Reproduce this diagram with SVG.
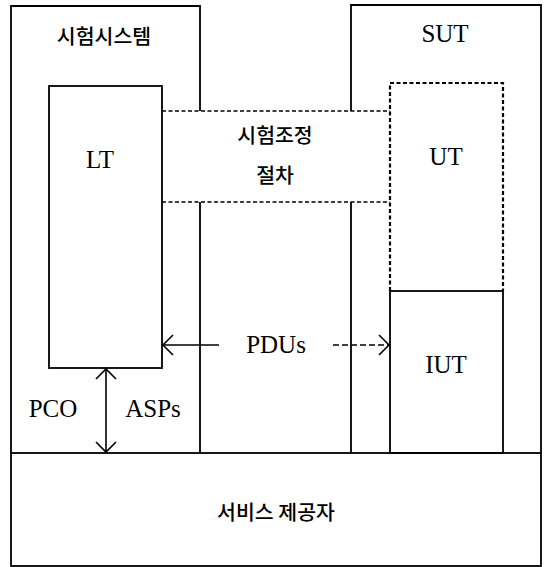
<svg xmlns="http://www.w3.org/2000/svg" width="545" height="567" viewBox="0 0 545 567">
<style>
.s{fill:none;stroke:#000;stroke-width:1.8}
.d{fill:none;stroke:#000;stroke-width:1.6;stroke-dasharray:4,2.5}
.dh{fill:none;stroke:#000;stroke-width:2.2;stroke-dasharray:4,2.5}
.ko{font-family:"Noto Sans CJK KR","Noto Sans",sans-serif;font-size:20.5px;fill:#000;text-anchor:middle;font-weight:500}
.la{font-family:"Liberation Serif","DejaVu Serif",serif;font-size:25px;fill:#000;text-anchor:middle}
.a{fill:none;stroke:#000;stroke-width:1.6}
</style>
<defs>
<marker id="ah" markerWidth="14" markerHeight="22" refX="12" refY="11" orient="auto-start-reverse" markerUnits="userSpaceOnUse" viewBox="0 0 14 22">
<path d="M2,1 L12,11 L2,21" fill="none" stroke="#000" stroke-width="1.6"/>
</marker>
</defs>
<rect x="0" y="0" width="545" height="567" fill="#fff"/>
<g id="test-system">
<path class="s" d="M11,453 V6 H200 V111 M200,202 V453"/>
<text class="ko" x="104" y="44">시험시스템</text>
</g>
<g id="sut">
<path class="s" d="M351,111 V5 H541 V453 M351,202 V453"/>
<text class="la" x="445" y="42">SUT</text>
</g>
<g id="lt">
<rect class="s" x="49" y="86" width="113" height="282" fill="#fff"/>
<text class="la" x="100" y="168">LT</text>
</g>
<g id="test-coordination">
<path class="d" d="M162,111 H390 M162,202 H390"/>
<text class="ko" x="275" y="143">시험조정</text>
<text class="ko" x="275" y="183">절차</text>
</g>
<g id="ut">
<path class="dh" d="M390,291 V83 H503 V291"/>
<text class="la" x="446" y="165">UT</text>
</g>
<g id="iut">
<rect class="s" x="390" y="291" width="113" height="162"/>
<text class="la" x="446" y="373">IUT</text>
</g>
<g id="service-provider">
<rect class="s" x="11" y="453" width="530" height="113"/>
<text class="ko" x="276" y="520">서비스 제공자</text>
</g>
<g id="connectors">
<line class="a" x1="163" y1="345" x2="219" y2="345" marker-start="url(#ah)"/>
<line class="a" x1="333" y1="345" x2="389" y2="345" stroke-dasharray="6,3" marker-end="url(#ah)"/>
<line class="a" x1="106" y1="369" x2="106" y2="452" marker-start="url(#ah)" marker-end="url(#ah)"/>
<text class="la" x="276" y="353">PDUs</text>
<text class="la" x="53" y="417">PCO</text>
<text class="la" x="153" y="417">ASPs</text>
</g>
</svg>
